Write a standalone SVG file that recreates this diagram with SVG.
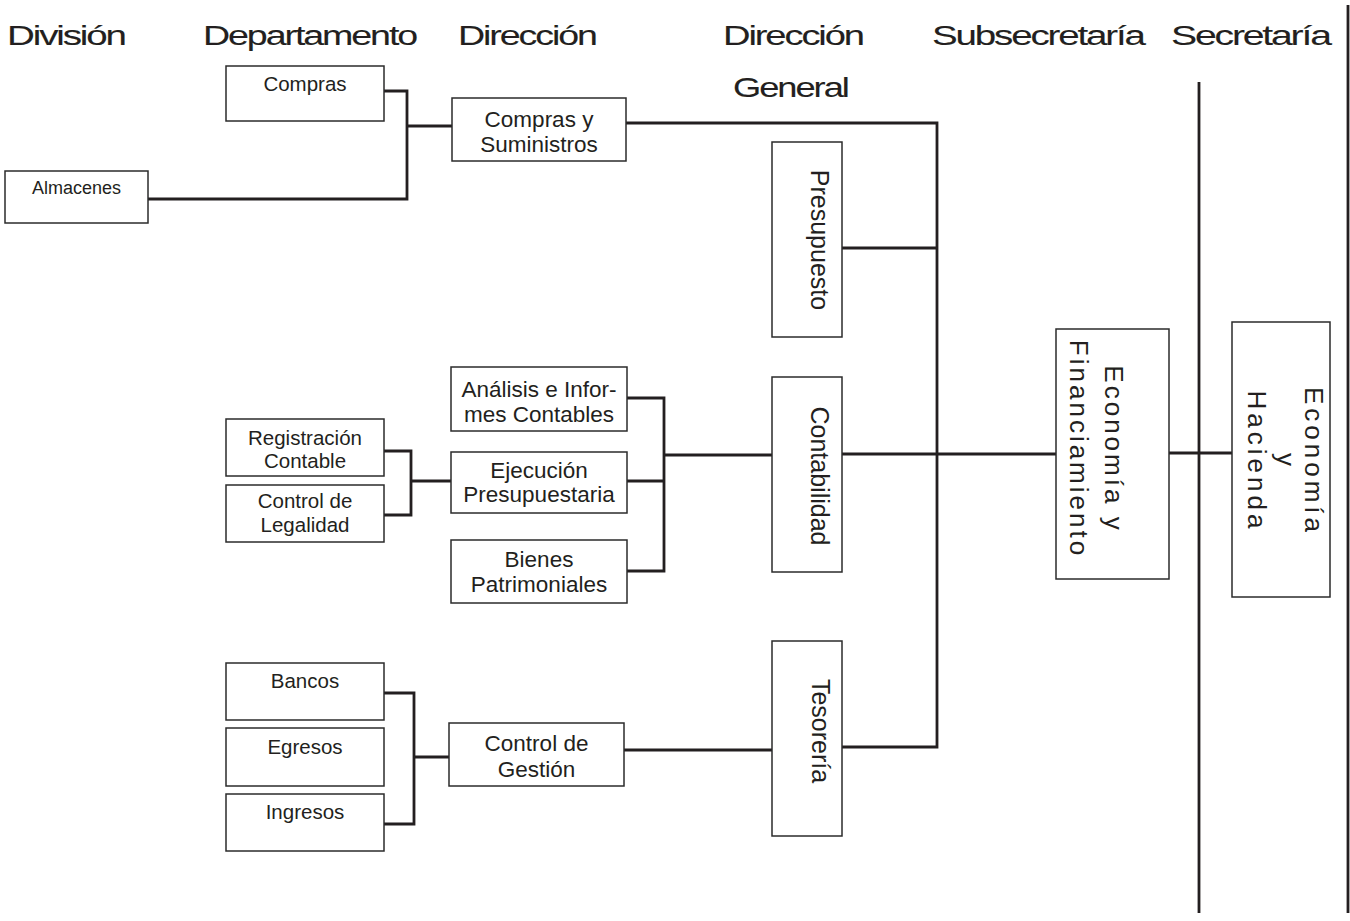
<svg xmlns="http://www.w3.org/2000/svg" width="1350" height="921" viewBox="0 0 1350 921">
<style>
  .bg { fill: #ffffff; }
  .box { fill: #ffffff; stroke: #2b2b2b; stroke-width: 1.5; }
  .con { fill: none; stroke: #231f20; stroke-width: 2.8; }
  text { font-family: "Liberation Sans", Arial, sans-serif; fill: #231f20; }
  .hdr { font-size: 27px; letter-spacing: -1.5px; stroke: #231f20; stroke-width: 0.1; }
  .s18 { font-size: 18px; text-anchor: middle; }
  .s20 { font-size: 20.5px; text-anchor: middle; }
  .s22 { font-size: 22.5px; text-anchor: middle; }
  .v25 { font-size: 25px; text-anchor: middle; }
  .v26a { font-size: 26px; text-anchor: middle; letter-spacing: 3px; }
  .v26b { font-size: 26px; text-anchor: middle; letter-spacing: 4px; }
</style>
<rect class="bg" x="0" y="0" width="1350" height="921"/>

<g id="headers">
  <text class="hdr" transform="translate(7,45) scale(1.429,1)">División</text>
  <text class="hdr" transform="translate(203,45) scale(1.392,1)">Departamento</text>
  <text class="hdr" transform="translate(458,45) scale(1.393,1)">Dirección</text>
  <text class="hdr" transform="translate(723,45) scale(1.413,1)">Dirección</text>
  <text class="hdr" transform="translate(733,97) scale(1.343,1)">General</text>
  <text class="hdr" transform="translate(932,45) scale(1.426,1)">Subsecretaría</text>
  <text class="hdr" transform="translate(1171,45) scale(1.45,1)">Secretaría</text>
</g>

<g id="connectors">
  <path class="con" d="M384,91 H407 V199 H148"/>
  <path class="con" d="M407,126 H452"/>
  <path class="con" d="M626,123 H937 V747 H842"/>
  <path class="con" d="M842,248 H937"/>
  <path class="con" d="M842,454 H1056"/>
  <path class="con" d="M1169,453 H1232"/>
  <path class="con" d="M1199,82 V913"/>
  <path class="con" d="M1348,5 V913"/>
  <path class="con" d="M627,398 H664 V571 H627"/>
  <path class="con" d="M627,481 H664"/>
  <path class="con" d="M664,455 H772"/>
  <path class="con" d="M384,451 H411 V515 H384"/>
  <path class="con" d="M411,481 H451"/>
  <path class="con" d="M384,693 H414 V824 H384"/>
  <path class="con" d="M414,757 H449"/>
  <path class="con" d="M624,750 H772"/>
</g>

<g id="compras">
  <rect class="box" x="226" y="66" width="158" height="55"/>
  <text class="s20" x="305" y="91">Compras</text>
</g>
<g id="almacenes">
  <rect class="box" x="5" y="171" width="143" height="52"/>
  <text class="s18" x="76.5" y="194">Almacenes</text>
</g>
<g id="compras-suministros">
  <rect class="box" x="452" y="98" width="174" height="63"/>
  <text class="s22" x="539" y="127">Compras y</text>
  <text class="s22" x="539" y="152">Suministros</text>
</g>
<g id="presupuesto">
  <rect class="box" x="772" y="142" width="70" height="195"/>
  <text class="v25" transform="translate(811,240) rotate(90)">Presupuesto</text>
</g>
<g id="contabilidad">
  <rect class="box" x="772" y="377" width="70" height="195"/>
  <text class="v25" transform="translate(811,476) rotate(90)">Contabilidad</text>
</g>
<g id="tesoreria">
  <rect class="box" x="772" y="641" width="70" height="195"/>
  <text class="v25" transform="translate(812,731) rotate(90)">Tesorería</text>
</g>
<g id="analisis">
  <rect class="box" x="451" y="367" width="176" height="64"/>
  <text class="s22" x="539" y="397">Análisis e Infor-</text>
  <text class="s22" x="539" y="422">mes Contables</text>
</g>
<g id="ejecucion">
  <rect class="box" x="451" y="452" width="176" height="61"/>
  <text class="s22" x="539" y="478">Ejecución</text>
  <text class="s22" x="539" y="502">Presupuestaria</text>
</g>
<g id="bienes">
  <rect class="box" x="451" y="540" width="176" height="63"/>
  <text class="s22" x="539" y="567">Bienes</text>
  <text class="s22" x="539" y="592">Patrimoniales</text>
</g>
<g id="registracion">
  <rect class="box" x="226" y="419" width="158" height="57"/>
  <text class="s20" x="305" y="445">Registración</text>
  <text class="s20" x="305" y="468">Contable</text>
</g>
<g id="legalidad">
  <rect class="box" x="226" y="485" width="158" height="57"/>
  <text class="s20" x="305" y="508">Control de</text>
  <text class="s20" x="305" y="532">Legalidad</text>
</g>
<g id="bancos">
  <rect class="box" x="226" y="663" width="158" height="57"/>
  <text class="s20" x="305" y="688">Bancos</text>
</g>
<g id="egresos">
  <rect class="box" x="226" y="728" width="158" height="58"/>
  <text class="s20" x="305" y="754">Egresos</text>
</g>
<g id="ingresos">
  <rect class="box" x="226" y="794" width="158" height="57"/>
  <text class="s20" x="305" y="819">Ingresos</text>
</g>
<g id="control-gestion">
  <rect class="box" x="449" y="723" width="175" height="63"/>
  <text class="s22" x="536.5" y="751">Control de</text>
  <text class="s22" x="536.5" y="777">Gestión</text>
</g>
<g id="economia-financiamiento">
  <rect class="box" x="1056" y="329" width="113" height="250"/>
  <text class="v26a" transform="translate(1105,449) rotate(90)"><tspan x="0" y="0">Economía y</tspan><tspan x="0" y="35">Financiamiento</tspan></text>
</g>
<g id="economia-hacienda">
  <rect class="box" x="1232" y="322" width="98" height="275"/>
  <text class="v26b" transform="translate(1305,461.5) rotate(90)"><tspan x="0" y="0">Economía</tspan><tspan x="0" y="28.5">y</tspan><tspan x="0" y="57">Hacienda</tspan></text>
</g>
</svg>
